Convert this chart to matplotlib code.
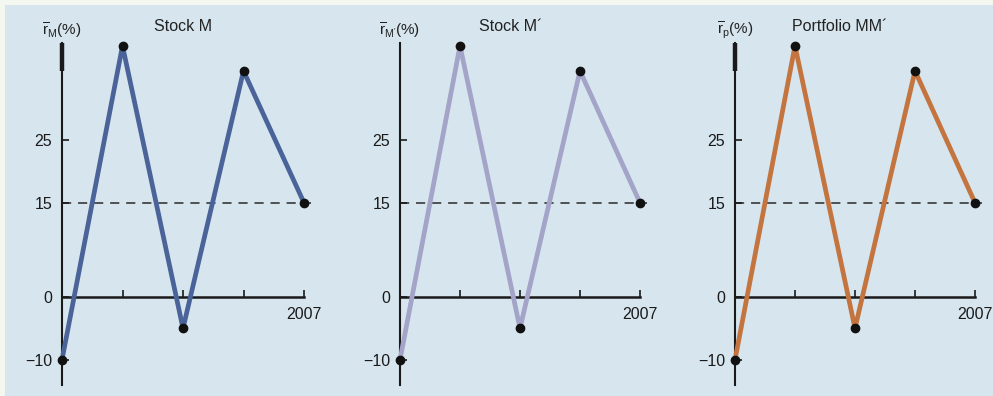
import matplotlib
matplotlib.use("Agg")
import matplotlib.pyplot as plt
from matplotlib.patches import Rectangle

plt.rcParams["font.family"] = ["Liberation Sans", "DejaVu Sans"]
plt.rcParams["mathtext.fontset"] = "custom"
plt.rcParams["mathtext.rm"] = "Liberation Sans"
plt.rcParams["mathtext.it"] = "Liberation Sans"

# data
years = [2003, 2004, 2005, 2006, 2007]
returns = [-10, 40, -5, 36, 15]
titles = ["Stock M", "Stock M\u00b4", "Portfolio MM\u00b4"]
ylabels = [r"$\overline{\mathrm{r}}_{\mathrm{M}}(\%)$",
           r"$\overline{\mathrm{r}}_{\mathrm{M}^{\prime}}(\%)$",
           r"$\overline{\mathrm{r}}_{\mathrm{p}}(\%)$"]
line_colors = ["#4a6398", "#a3a4c8", "#c4743f"]
mean_return = 15
yticks = [-10, 0, 15, 25]
ytick_labels = ["\u221210", "0", "15", "25"]
xtick_labels = ["", "", "", "2007"]

BG = "#d7e6ee"
W, H = 993, 396
origins_px = [62, 400, 735]     # pixel x of the y axis in each panel
px_per_year = [60.5, 60, 60]
title_x = [2005.0, 2004.85, 2004.75]
xlim = (2002.3, 2007.5)
ylim = (-15.5, 45)
y0_px = 297                     # pixel row of y=0
px_per_unit = 6.28

fig = plt.figure(figsize=(W / 100, H / 100), dpi=100)
fig.patch.set_facecolor(BG)
fig.patches.append(Rectangle((0, 1 - 5 / H), 1, 5 / H, transform=fig.transFigure,
                             facecolor="#f4f6f0", edgecolor="none", zorder=0))
fig.patches.append(Rectangle((0, 0), 5 / W, 1, transform=fig.transFigure,
                             facecolor="#f4f6f0", edgecolor="none", zorder=0))

ax_h = (ylim[1] - ylim[0]) * px_per_unit
top_px = y0_px - ylim[1] * px_per_unit

for i in range(3):
    ax_w = (xlim[1] - xlim[0]) * px_per_year[i]
    left_px = origins_px[i] - (years[0] - xlim[0]) * px_per_year[i]
    ax = fig.add_axes([left_px / W, 1 - (top_px + ax_h) / H, ax_w / W, ax_h / H])
    ax.set_facecolor("none")
    ax.set_xlim(*xlim)
    ax.set_ylim(*ylim)

    for s in ["top", "right"]:
        ax.spines[s].set_visible(False)
    ax.spines["left"].set_position(("data", years[0]))
    ax.spines["bottom"].set_position(("data", 0))
    ax.spines["left"].set_bounds(-14, 40.5)
    ax.spines["bottom"].set_bounds(years[0], years[-1])
    ax.spines["left"].set_linewidth(1.5)
    ax.spines["bottom"].set_linewidth(1.8)
    ax.spines["left"].set_color("#1a1a1a")
    ax.spines["bottom"].set_color("#1a1a1a")
    if i != 1:
        ax.plot([years[0], years[0]], [36, 40.5], color="#1a1a1a", lw=3.2,
                solid_capstyle="butt", zorder=2)

    ax.set_yticks(yticks)
    ax.set_yticklabels(ytick_labels)
    ax.set_xticks(years[1:])
    ax.set_xticklabels(xtick_labels)
    ax.tick_params(axis="both", direction="in", length=5, width=1.2,
                   color="#1a1a1a", labelsize=11.5, labelcolor="#1a1a1a", pad=7)

    ax.hlines(mean_return, years[0], years[-1] + 0.12, colors="#2a2a2a",
              linestyles=(0, (6, 4.5)), lw=1.1, zorder=1)
    ax.plot(years, returns, color=line_colors[i], lw=3.4, zorder=3,
            solid_joinstyle="round", solid_capstyle="round")
    ax.plot(years, returns, "o", color="#111111", ms=6, zorder=4)

    ax.text(title_x[i], 43, titles[i], ha="center", va="center",
            fontsize=11.5, color="#222222")
    ax.text(years[0], 42.5, ylabels[i], ha="center", va="center",
            fontsize=11, color="#222222")

fig.savefig("out.png", dpi=100, facecolor=BG)
